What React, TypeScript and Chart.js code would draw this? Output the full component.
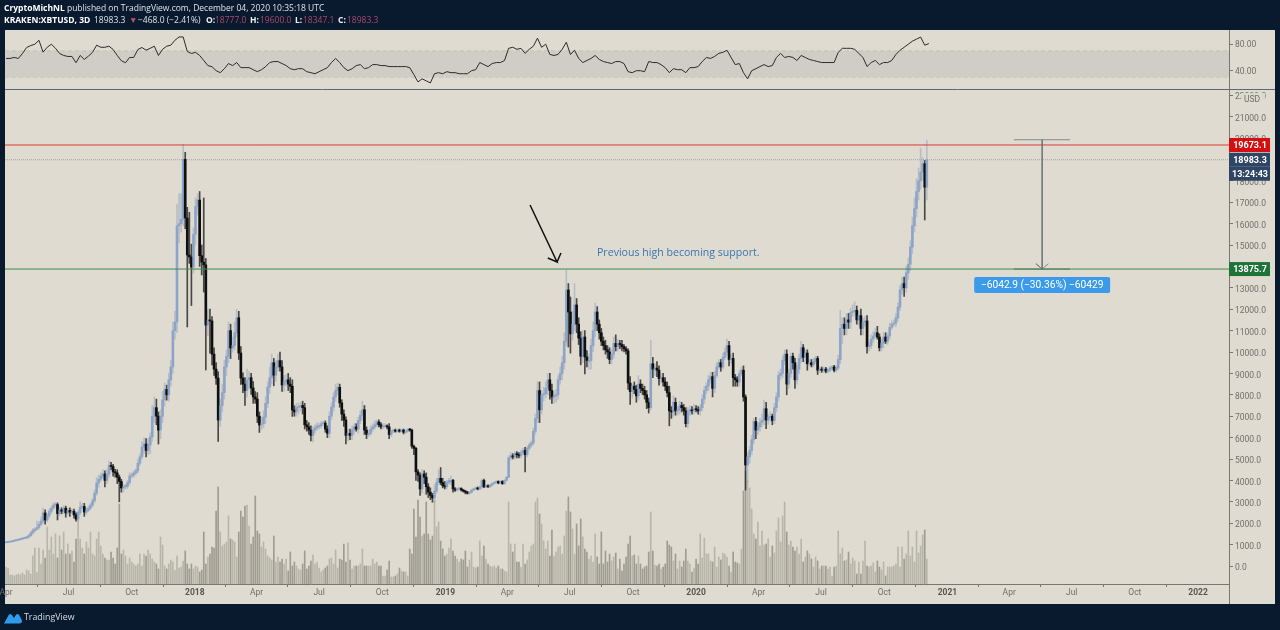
import React, { useEffect, useRef } from "react";
import Chart from "chart.js/auto";

// 3-day closes from 2017-04-01, one row per ten bars
const closes = [
1100,1120,1130,1160,1190,1210,1230,1260,1290,1310,
1350,1420,1540,1660,1720,1800,1950,2100,2480,2150,
2350,2550,2700,2850,2870,2450,2620,2560,2700,2480,
2600,2520,2560,2390,2190,2500,2750,2780,2520,2600,
2700,2850,3050,3400,3880,4050,4200,4300,4000,4300,
4700,4650,4400,4350,4150,3950,3650,3700,3720,3900,
4200,4250,4350,4450,4800,5100,5560,5700,5400,5650,
6030,7000,7400,7000,6350,7000,7760,8250,8000,8700,
9300,11000,11400,15900,16000,16200,19000,16260,14530,14440,
13970,15500,16800,17100,14500,14200,14070,11260,11500,11450,
9900,9200,8780,6820,7500,8100,9300,9800,11000,10190,
10300,10900,11600,9950,8780,8500,8200,8700,8800,8320,
7900,7800,7000,6590,6650,6960,7600,8360,8800,9500,
8920,9300,9600,9300,8460,8600,8700,8500,8400,7290,
7200,7400,7450,7500,7400,6600,6500,6350,6100,6350,
6450,6550,6550,6650,6680,6400,6200,7000,7430,7900,
8200,8350,7620,7100,6820,6100,6200,6100,6350,6500,
6400,6800,7050,7300,6350,6150,6200,6400,6500,6600,
6730,6600,6500,6550,6550,6500,6150,6300,6350,6300,
6350,6300,6350,6250,6300,6380,6350,5600,5500,4400,
4250,3600,4300,4150,3700,3450,3300,3180,3500,3900,
4100,3900,3750,3700,3900,4000,4000,3600,3550,3600,
3620,3550,3500,3450,3400,3450,3550,3600,3650,3600,
3700,4000,3700,3750,3700,3780,3850,3900,3950,3880,
3950,3850,4000,4150,5050,5150,5100,5250,5200,5150,
5300,5400,5200,5500,5650,5750,6300,6900,8200,7300,
8000,8050,8300,8700,8200,7900,7950,8000,8700,9000,
9500,10500,12900,11870,10850,11300,12200,11300,10650,9800,
10700,9770,9600,9600,10300,11000,11870,11300,10900,10500,
10300,10100,10000,9650,9900,10400,10250,10400,10350,10250,
10150,10050,8550,8150,8400,8250,7950,8500,8300,8200,
8000,7650,7400,9450,9200,9250,9150,8750,8800,8600,
8400,8100,7250,7200,7650,7250,7300,7500,7400,7250,
6650,7200,7300,7250,7350,7300,7250,7400,7800,8200,
8400,8700,8850,8300,8900,9300,9500,9300,9750,10000,
10300,9650,9700,8800,8700,8600,9000,9150,7900,4720,
5100,5400,5900,6750,6350,6500,6700,6800,7350,6820,
6950,7000,6800,7400,7900,8900,9000,9600,9900,8500,
9000,9800,9500,8700,9200,9700,10200,9750,9950,9450,
9500,9400,9550,9700,9150,9200,9150,9200,9100,9150,
9250,9300,9150,9250,9650,11100,11300,11100,11500,11400,
11850,11900,11950,11500,11700,11100,11400,11450,10250,10300,
10600,10750,10900,10700,10200,10400,10700,10500,10750,11150,
11300,11350,11600,12100,12900,13200,13000,13700,14100,14900,
15900,16700,17500,18000,18400,18800,17700,18983,
];

const upperWicks = [
10,20,15,20,20,30,20,30,30,40,
40,60,80,100,60,300,120,200,230,150,
80,120,100,100,100,80,120,100,120,100,
100,120,100,100,100,100,250,150,150,100,
100,80,100,150,250,200,150,200,150,200,
200,150,100,120,150,100,100,100,100,100,
150,100,100,100,200,150,250,300,250,300,
200,500,500,400,200,300,400,300,200,300,
300,400,500,1000,1400,1200,700,330,500,2000,
600,300,400,300,400,500,3000,300,500,500,
200,300,300,300,300,400,300,300,400,300,
400,500,400,300,300,250,300,500,300,200,
300,250,300,200,300,300,300,250,500,400,
200,300,300,400,300,300,250,300,300,300,
200,200,150,150,200,200,200,200,200,150,
150,150,100,100,100,100,150,200,200,200,
300,200,150,150,200,150,200,200,200,150,
150,150,200,400,200,150,150,150,150,200,
100,100,100,100,100,50,150,50,50,50,
50,50,50,50,50,50,50,50,50,50,
100,100,200,150,200,150,200,100,300,200,
400,500,200,200,100,100,200,50,60,50,
40,40,30,40,40,40,40,40,40,40,
40,60,60,40,40,40,40,40,40,30,
30,40,30,30,100,150,100,100,100,100,
100,100,150,100,100,100,150,200,400,400,
200,300,300,300,300,300,200,250,200,300,
300,400,930,300,700,600,1000,300,300,300,
300,300,300,300,300,400,420,250,200,200,
200,250,200,200,200,300,400,200,150,200,
100,100,100,300,100,200,200,400,200,200,
200,200,200,1100,300,200,300,200,200,200,
200,200,300,200,300,200,150,200,150,150,
150,200,200,150,200,150,150,150,200,200,
150,200,200,200,200,200,150,150,200,200,
300,200,200,250,150,150,150,150,200,100,
200,200,200,150,200,200,200,300,400,300,
150,200,100,200,200,200,200,200,200,200,
200,150,150,200,200,200,300,150,150,150,
150,150,150,100,100,100,100,100,80,80,
80,80,80,100,200,850,300,300,300,300,
200,300,400,200,200,300,200,200,250,150,
200,200,200,300,150,200,200,200,150,200,
150,150,200,200,200,300,300,300,300,300,
400,500,600,600,1130,300,150,917,
];

const lowerWicks = [
10,10,20,10,20,20,30,20,30,20,
30,50,40,60,80,50,80,60,100,200,
80,100,100,60,100,300,100,120,100,200,
100,200,80,150,100,60,100,100,200,100,
60,60,80,100,100,200,100,100,300,150,
150,150,200,200,300,950,200,200,100,100,
100,100,100,100,100,100,100,300,300,200,
400,200,300,400,650,400,300,300,250,300,
300,300,400,500,800,400,300,500,3360,300,
1800,300,500,400,500,600,1270,2100,500,1500,
500,300,300,1000,300,300,300,400,300,500,
200,200,200,300,300,400,700,300,400,300,
300,200,300,350,200,200,300,200,300,300,
500,300,200,200,300,300,200,300,300,300,
200,200,300,200,300,200,200,200,250,300,
150,100,150,100,100,150,200,200,150,200,
200,200,200,300,300,400,250,200,200,200,
100,200,150,200,200,200,100,100,100,100,
100,100,100,100,50,100,200,100,80,50,
50,50,40,80,50,50,50,100,300,400,
300,300,200,300,350,250,200,200,200,100,
100,100,100,100,100,80,200,150,60,50,
40,50,50,80,40,40,50,40,40,40,
40,80,40,40,30,30,40,30,30,40,
30,40,30,30,30,100,100,100,150,100,
100,80,800,100,100,100,100,150,200,600,
200,300,200,300,400,300,300,300,200,200,
300,300,200,1640,900,300,300,400,300,400,
300,800,300,400,400,300,300,300,300,200,
200,200,300,200,200,200,200,200,200,200,
150,150,300,600,300,200,300,200,200,200,
200,300,250,100,400,300,300,300,200,200,
200,200,700,300,200,200,200,200,200,200,
150,200,150,150,150,100,150,200,150,200,
150,200,150,400,200,100,100,200,100,100,
150,300,200,400,300,200,200,100,200,1170,
800,300,200,200,400,200,200,200,200,400,
200,200,200,150,200,200,200,200,200,500,
200,200,300,400,200,200,200,200,300,300,
100,100,100,100,200,100,100,100,80,80,
80,80,80,80,80,200,700,300,300,300,
300,200,200,200,250,300,300,200,300,200,
150,150,100,100,150,150,200,100,150,150,
100,100,150,150,150,200,400,200,300,300,
300,300,400,400,400,400,1530,600,
];

const volumes = [
17,16,9,9,8,9,10,9,11,9,
14,13,10,28,36,12,36,20,34,26,
57,34,47,30,50,26,48,34,52,30,
40,30,33,22,45,64,45,36,30,42,
36,52,30,28,45,52,38,30,26,24,
24,32,26,20,36,80,30,34,28,20,
26,22,20,18,20,30,18,30,28,34,
30,25,22,20,15,47,39,18,15,20,
24,22,14,28,16,17,23,33,20,15,
20,15,18,17,12,14,52,20,27,30,
37,36,73,97,52,38,40,42,68,45,
44,42,27,52,73,67,78,79,58,40,
47,88,53,50,37,42,35,28,26,24,
48,22,27,22,25,20,25,13,32,18,
22,18,15,14,20,33,15,18,23,29,
20,22,16,12,14,16,18,25,26,20,
34,16,25,24,40,22,41,24,15,18,
18,18,20,35,18,18,18,18,25,20,
22,18,18,8,8,14,23,7,7,8,
10,16,13,12,12,8,35,30,75,47,
84,67,48,50,82,50,44,48,83,57,
62,43,35,28,30,36,45,33,28,25,
22,25,24,33,17,24,32,17,16,17,
43,28,38,25,20,18,17,18,16,18,
15,15,13,12,82,40,32,40,22,22,
17,40,20,24,32,38,40,82,86,70,
60,43,35,43,28,54,28,32,37,38,
30,48,73,87,72,55,30,60,38,65,
47,35,32,25,28,22,50,27,20,52,
20,33,22,30,23,27,31,15,25,13,
20,27,40,48,28,29,20,28,20,15,
17,18,32,72,33,19,18,20,15,17,
20,43,39,37,23,30,15,23,17,23,
35,23,20,12,16,25,20,50,26,46,
30,30,23,22,37,17,27,24,31,30,
27,18,12,32,22,21,20,35,93,113,
103,96,75,50,45,62,38,53,39,40,
45,27,38,31,53,66,42,68,82,52,
39,43,37,33,37,30,45,22,27,33,
30,25,17,27,23,15,18,18,18,15,
17,8,17,18,53,30,36,23,24,32,
20,26,23,10,22,10,23,43,18,17,
18,21,12,23,17,14,22,8,17,17,
17,18,20,37,17,37,25,30,53,28,
37,22,53,31,38,49,54,25,
];

// RSI, one reading every second bar
const rsiValues = [
58.5,58.5,60,58.5,66,75,78,80,86,68,
75.4,80,74,66,63,61.5,61.5,52,63,57,
62,67.7,78.5,75.4,75.4,77,72,63,55,52,
60,60,72,75,71,73.8,77,63,72.3,77,
78.5,86,91,91,69,66,67.7,63,55.4,47.7,
46,40,37,43,50.8,47.7,52.3,44.6,44.6,44.6,
41.5,38.5,41.5,46,52.3,53.8,53.8,50.8,47.7,43,
41.5,43,43,38.5,37,35.4,38.5,41.5,44.6,52.3,
58.5,52.3,44.6,40,43,47.7,49.2,43,44.6,49.2,
49.2,47.7,47.7,46.2,46.2,46.2,46.2,46.2,44.6,34,
23,27.7,24.6,21.5,35.4,37,35.4,38.5,37,37,
35.4,35.4,35.4,40,41.5,52.3,49.2,46.2,50.8,52.3,
52.3,55.4,73.8,75.4,72.3,73.8,66.2,72.3,77,89.2,
75.4,80,64.6,63,64.6,72.3,83,64.6,70.8,58.5,
52.3,55.4,58.5,63,57,53.8,52.3,50.8,53.8,53.8,
50.8,38.5,37,40,40,38.5,53.8,52.3,52.3,49.2,
44.6,37,43,41.5,41.5,37,44.6,44.6,46.2,53.8,
60,58.5,61.5,66.2,67.7,70.8,60,49.2,50.8,37,
27.7,40,43,46.2,49.2,46.2,47.7,60,66.2,60,
61.5,60,55.4,63,60,57,55.4,53.8,52.3,52.3,
52.3,52.3,67.7,73.8,73.8,73.8,72.3,66.2,60,46.2,
52.3,55.4,49.2,52.3,52.3,55.4,64.6,70.8,75.4,80,
84.6,87.7,90.8,78.5,81,
];

const firstOpen = 1090;
const seriesStart = "2017-04-01";
const tickDates = ["2017-04-01","2017-07-01","2017-10-01","2018-01-01","2018-04-01","2018-07-01","2018-10-01","2019-01-01","2019-04-01","2019-07-01","2019-10-01","2020-01-01","2020-04-01","2020-07-01","2020-10-01","2021-01-01","2021-04-01","2021-07-01","2021-10-01","2022-01-01"];
const tickLabels = ["Apr","Jul","Oct","2018","Apr","Jul","Oct","2019","Apr","Jul","Oct","2020","Apr","Jul","Oct","2021","Apr","Jul","Oct","2022"];
const priceTicks = [0,1000,2000,3000,4000,5000,6000,7000,8000,9000,10000,11000,12000,13000,14000,15000,16000,17000,18000,19000,20000,21000,22000];
const rsiTicks = [40, 80];

const resistance = 19673.1;
const support = 13875.7;
const lastClose = 18983.3;
const countdown = "13:24:43";
const measureTop = 19918.6;
const measureBars = [489.3, 503, 516.5];
const arrowBars = [254.4, 267.5, 263, 269.4];
const arrowPrices = [16869, 14206, 14393, 14626];
const measureLabel = "\u22126042.9 (\u221230.36%) \u221260429";
const noteText = "Previous high becoming support.";

const xMin = -0.49;
const xMax = 593.7;
const FONT = "Roboto, 'Liberation Sans', sans-serif";
const AXIS_GREY = "#77766f";
const BG_DARK = "#0a1a2e";
const BG_PANE = "#dfdbd0";

const barIndexOf = (iso: string) =>
  (Date.parse(iso) - Date.parse(seriesStart)) / (3 * 86400000);

const fixFit = (width?: number, height?: number) => (s: any) => {
  if (width) s.width = width;
  if (height) s.height = height;
  s.paddingLeft = 0; s.paddingRight = 0; s.paddingTop = 0; s.paddingBottom = 0;
};

const panePlugin = {
  id: "panes",
  beforeDraw(chart: any) {
    const { ctx, width, height, chartArea: a } = chart;
    ctx.save();
    ctx.fillStyle = BG_DARK;
    ctx.fillRect(0, 0, width, height);
    ctx.fillStyle = BG_PANE;
    ctx.fillRect(5, a.top, 1270, 574);
    ctx.restore();
  },
  afterDraw(chart: any) {
    const { ctx, chartArea: a, scales } = chart;
    const p = scales.price;
    ctx.save();
    // pane separator
    ctx.strokeStyle = "#5a6877";
    ctx.lineWidth = 1;
    ctx.beginPath();
    ctx.moveTo(5, p.top - 0.5);
    ctx.lineTo(1275, p.top - 0.5);
    ctx.stroke();
    // axis line
    ctx.strokeStyle = AXIS_GREY;
    ctx.beginPath();
    ctx.moveTo(a.right + 0.5, a.top);
    ctx.lineTo(a.right + 0.5, 604);
    ctx.stroke();

    const tag = (text: string, yc: number, fill: string, bold = true) => {
      ctx.fillStyle = fill;
      ctx.fillRect(a.right, yc - 7, 41, 14);
      ctx.fillStyle = "#ffffff";
      ctx.font = (bold ? "bold " : "") + "9px " + FONT;
      ctx.textAlign = "center";
      ctx.textBaseline = "middle";
      ctx.fillText(text, a.right + 21, yc + 0.5);
    };
    tag(resistance.toFixed(1), p.getPixelForValue(resistance), "#d30f0f");
    tag(lastClose.toFixed(1), p.getPixelForValue(lastClose), "#2e4566");
    tag(countdown, p.getPixelForValue(lastClose) + 14, "#2e4566");
    tag(support.toFixed(1), p.getPixelForValue(support), "#1f7339");

    // currency box
    ctx.fillStyle = "rgba(223,219,208,0.92)";
    ctx.fillRect(1241, 93, 24, 12);
    ctx.fillStyle = "#6f6f6b";
    ctx.font = "8.5px " + FONT;
    ctx.fillText("USD", 1252, 99.5);

    // measure box
    const mx = chart.scales.x.getPixelForValue(measureBars[1]);
    const my = p.getPixelForValue(support) + 8;
    ctx.fillStyle = "#3b9bea";
    ctx.beginPath();
    ctx.roundRect(mx - 68, my, 136, 16, 2);
    ctx.fill();
    ctx.fillStyle = "#ffffff";
    ctx.font = "10.2px " + FONT;
    ctx.fillText(measureLabel, mx, my + 8.5);

    // note
    ctx.fillStyle = "#3a76b2";
    ctx.font = "10.6px 'Open Sans', " + FONT;
    ctx.textAlign = "left";
    ctx.fillText(noteText, 597, 252.5);
    ctx.restore();
  },
};

const opens = closes.map((_, i) => (i === 0 ? firstOpen : closes[i - 1]));
const isUp = closes.map((c, i) => c >= opens[i]);
const UP_BODY = "rgba(125,155,200,0.78)";
const UP_WICK = "rgba(135,155,185,0.45)";
const DOWN_BODY = "#0e0f10";
const DOWN_WICK = "rgba(35,35,32,0.8)";

export default function App() {
  const ref = useRef<HTMLCanvasElement | null>(null);

  useEffect(() => {
    const canvas = ref.current;
    if (!canvas) return;

    const hLine = (v: number, color: string, dash: number[] = [], order = 1) => ({
      type: "line" as const,
      data: [{ x: xMin, y: v }, { x: xMax, y: v }],
      borderColor: color,
      borderWidth: 1,
      borderDash: dash,
      pointRadius: 0,
      yAxisID: "price",
      order,
    });

    const chart = new Chart(canvas, {
      data: {
        datasets: [
          {
            type: "bar",
            data: volumes.map((v, i) => ({ x: i, y: v })),
            backgroundColor: volumes.map((_, i) => (isUp[i] ? "rgba(178,175,162,0.85)" : "rgba(152,149,137,0.9)")),
            barThickness: 1,
            yAxisID: "vol",
            order: 9,
          },
          hLine(lastClose, "#a5a49d", [1, 1], 8),
          {
            type: "bar",
            data: closes.map((c, i) => ({
              x: i,
              y: [Math.min(c, opens[i]) - lowerWicks[i], Math.max(c, opens[i]) + upperWicks[i]],
            })),
            backgroundColor: closes.map((_, i) => (isUp[i] ? UP_WICK : DOWN_WICK)),
            barThickness: 1,
            grouped: false,
            yAxisID: "price",
            order: 5,
          },
          {
            type: "bar",
            data: closes.map((c, i) => ({ x: i, y: [opens[i], c] })),
            backgroundColor: closes.map((_, i) => (isUp[i] ? UP_BODY : DOWN_BODY)),
            barThickness: 2,
            grouped: false,
            minBarLength: 1,
            yAxisID: "price",
            order: 4,
          },
          hLine(resistance, "#de3a30", [], 3),
          hLine(support, "#3f8a4c", [], 3),
          {
            type: "line",
            data: [
              { x: arrowBars[0], y: arrowPrices[0] },
              { x: arrowBars[1], y: arrowPrices[1] },
              { x: arrowBars[2], y: arrowPrices[2] },
              { x: arrowBars[1], y: arrowPrices[1] },
              { x: arrowBars[3], y: arrowPrices[3] },
            ],
            borderColor: "#101010",
            borderWidth: 1.5,
            pointRadius: 0,
            yAxisID: "price",
            order: 2,
          },
          {
            type: "line",
            data: [{ x: measureBars[0], y: measureTop }, { x: measureBars[2], y: measureTop }],
            borderColor: "#6a7572", borderWidth: 0.8, pointRadius: 0, yAxisID: "price", order: 2,
          },
          {
            type: "line",
            data: [{ x: measureBars[0], y: support }, { x: measureBars[2], y: support }],
            borderColor: "#3f6a52", borderWidth: 0.8, pointRadius: 0, yAxisID: "price", order: 2,
          },
          {
            type: "line",
            data: [
              { x: measureBars[1], y: measureTop },
              { x: measureBars[1], y: support },
              { x: measureBars[1] - 3, y: support + 250 },
              { x: measureBars[1], y: support },
              { x: measureBars[1] + 3, y: support + 250 },
            ],
            borderColor: "#6a7572", borderWidth: 0.8, pointRadius: 0, yAxisID: "price", order: 2,
          },
          {
            type: "line",
            data: [{ x: xMin, y: 70 }, { x: xMax, y: 70 }],
            borderColor: "#c6c3b9",
            borderWidth: 1,
            borderDash: [4, 3],
            pointRadius: 0,
            fill: "+1",
            backgroundColor: "#cfcdc5",
            yAxisID: "rsi",
            order: 7,
          },
          {
            type: "line",
            data: [{ x: xMin, y: 30 }, { x: xMax, y: 30 }],
            borderColor: "#c6c3b9",
            borderWidth: 1,
            borderDash: [4, 3],
            pointRadius: 0,
            yAxisID: "rsi",
            order: 7,
          },
          {
            type: "line",
            data: rsiValues.map((v, k) => ({ x: k * 2, y: v })),
            borderColor: "#2b2b2b",
            borderWidth: 1,
            pointRadius: 0,
            tension: 0,
            yAxisID: "rsi",
            order: 1,
          },
        ],
      } as any,
      options: {
        responsive: false,
        animation: false,
        events: [],
        layout: { padding: { left: 5, top: 30, right: 5, bottom: 26 } },
        plugins: { legend: { display: false }, tooltip: { enabled: false }, title: { display: false } },
        scales: {
          x: {
            type: "linear",
            min: xMin,
            max: xMax,
            offset: false,
            grid: { drawOnChartArea: false, color: AXIS_GREY, tickLength: 3 },
            border: { color: AXIS_GREY },
            afterFit: fixFit(undefined, 20),
            afterBuildTicks: (s: any) => { s.ticks = tickDates.map((d) => ({ value: barIndexOf(d) })); },
            ticks: {
              autoSkip: false,
              maxRotation: 0,
              padding: 1,
              color: (c: any) => (/^2/.test(tickLabels[c.index]) ? "#55554f" : "#6f6f6b"),
              font: (c: any) => ({ family: FONT, size: 8.5, weight: /^2/.test(tickLabels[c.index]) ? "bold" : "normal" }),
              callback: (_v: any, i: number) => tickLabels[i],
            },
          },
          rsi: {
            type: "linear",
            position: "right",
            stack: "panes",
            stackWeight: 60,
            min: 10.8,
            max: 101.5,
            grid: { drawOnChartArea: false, color: AXIS_GREY, tickColor: AXIS_GREY, tickLength: 4 },
            border: { display: false },
            afterFit: fixFit(46),
            afterBuildTicks: (s: any) => { s.ticks = rsiTicks.map((v) => ({ value: v })); },
            ticks: { color: "#6f6f6b", padding: 2, labelOffset: 1, font: { family: FONT, size: 8.5 }, callback: (v: any) => Number(v).toFixed(2) },
          },
          price: {
            type: "linear",
            position: "right",
            stack: "panes",
            stackWeight: 494,
            min: -841,
            max: 22243,
            grid: { drawOnChartArea: false, color: AXIS_GREY, tickColor: AXIS_GREY, tickLength: 4 },
            border: { display: false },
            afterFit: fixFit(46),
            afterBuildTicks: (s: any) => { s.ticks = priceTicks.map((v) => ({ value: v })); },
            ticks: { autoSkip: false, color: "#6f6f6b", padding: 2, labelOffset: 2, font: { family: FONT, size: 8.5 }, callback: (v: any) => Number(v).toFixed(1) },
          },
          vol: {
            type: "linear",
            position: "right",
            display: false,
            min: 0,
            max: 554,
          },
        },
      } as any,
      plugins: [panePlugin],
    });
    return () => chart.destroy();
  }, []);

  const base: React.CSSProperties = {
    position: "absolute", whiteSpace: "nowrap", color: "#dfe3e8",
    fontFamily: "'Open Sans', sans-serif", fontSize: 8.5, lineHeight: "12px",
  };
  const line2 = (left: number, text: string, extra: React.CSSProperties = {}) => (
    <div style={{ ...base, top: 14, left, ...extra }}>{text}</div>
  );
  const val: React.CSSProperties = { color: "#a8486a" };
  const lbl: React.CSSProperties = { fontWeight: 700, color: "#eef1f4" };

  return (
    <div style={{ position: "fixed", left: 0, top: 0, width: 1280, height: 630, background: BG_DARK, overflow: "hidden" }}>
      <canvas ref={ref} width={1280} height={630} style={{ position: "absolute", left: 0, top: 0, width: 1280, height: 630 }} />
      <div style={{ ...base, left: 4, top: 2 }}>
        <b style={{ color: "#fff" }}>CryptoMichNL</b> published on TradingView.com, December 04, 2020 10:35:18 UTC
      </div>
      {line2(4, "KRAKEN:XBTUSD, 3D", { fontWeight: 700, color: "#fff" })}
      {line2(94, "18983.3")}
      {line2(129, "▼", { color: "#c0506e" })}
      {line2(138, "−468.0 (−2.41%)")}
      {line2(206, "O:", lbl)}
      {line2(215, "18777.0", val)}
      {line2(250, "H:", lbl)}
      {line2(260, "19600.0", val)}
      {line2(295, "L:", lbl)}
      {line2(303, "18347.1", val)}
      {line2(338, "C:", lbl)}
      {line2(347, "18983.3", val)}
      <svg width="18" height="12" viewBox="0 0 20 12" style={{ position: "absolute", left: 4, top: 612 }}>
        <path d="M0 12 L5 3 Q7 0 9 3 L11 6 L13 3 Q15 0 17 3 L20 9 Q20 12 17 12 Z" fill="#2f9ceb" />
      </svg>
      <div style={{ ...base, left: 24, top: 611, fontSize: 9.6, color: "#d6dce3", transform: "scaleX(0.92)", transformOrigin: "left center" }}>TradingView</div>
    </div>
  );
}
